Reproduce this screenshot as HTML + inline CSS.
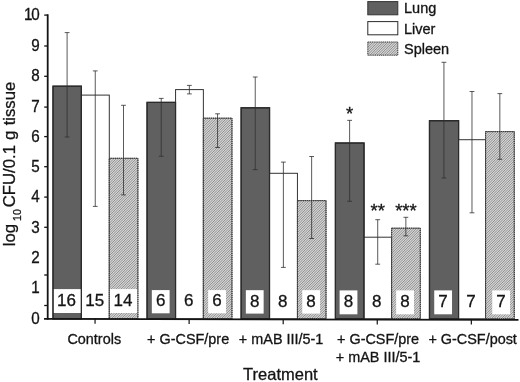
<!DOCTYPE html>
<html><head><meta charset="utf-8"><title>chart</title>
<style>
html,body{margin:0;padding:0;background:#fff;}
body{width:520px;height:382px;overflow:hidden;}
svg{display:block;will-change:transform;}
text{font-family:"Liberation Sans",sans-serif;fill:#141414;stroke:#141414;stroke-width:0.3px;}
</style></head><body>
<svg width="520" height="382" viewBox="0 0 520 382">
<defs>
<pattern id="h" width="5" height="5" patternUnits="userSpaceOnUse">
<rect width="5" height="5" fill="#f4f4f4"/>
<path d="M1.000,-1 L-1,1.000 M2.667,-1 L-1,2.667 M4.333,-1 L-1,4.333 M6.000,-1 L-1,6.000 M7.667,-1 L-1,7.667 M9.333,-1 L-1,9.333 M11.000,-1 L-1,11.000" stroke="#5a5a5a" stroke-width="0.64"/>
</pattern>
</defs>
<rect width="520" height="382" fill="#fff"/>

<rect x="53.00" y="86.20" width="28.40" height="232.60" fill="#606060" stroke="#2b2b2b" stroke-width="1.2"/>
<rect x="81.40" y="95.10" width="27.90" height="223.70" fill="#fff" stroke="#333" stroke-width="1"/>
<rect x="109.30" y="158.30" width="28.60" height="160.50" fill="url(#h)" stroke="#3c3c3c" stroke-width="1" stroke-dasharray="1.3 0.6"/>
<rect x="147.07" y="102.40" width="28.50" height="216.40" fill="#606060" stroke="#2b2b2b" stroke-width="1.2"/>
<rect x="175.57" y="89.60" width="27.80" height="229.20" fill="#fff" stroke="#333" stroke-width="1"/>
<rect x="203.37" y="118.20" width="28.60" height="200.60" fill="url(#h)" stroke="#3c3c3c" stroke-width="1" stroke-dasharray="1.3 0.6"/>
<rect x="241.14" y="107.80" width="28.40" height="211.00" fill="#606060" stroke="#2b2b2b" stroke-width="1.2"/>
<rect x="269.54" y="173.30" width="27.90" height="145.50" fill="#fff" stroke="#333" stroke-width="1"/>
<rect x="297.44" y="200.60" width="28.60" height="118.20" fill="url(#h)" stroke="#3c3c3c" stroke-width="1" stroke-dasharray="1.3 0.6"/>
<rect x="335.41" y="143.00" width="28.60" height="175.80" fill="#606060" stroke="#2b2b2b" stroke-width="1.2"/>
<rect x="364.01" y="237.20" width="27.60" height="81.60" fill="#fff" stroke="#333" stroke-width="1"/>
<rect x="391.61" y="228.20" width="28.70" height="90.60" fill="url(#h)" stroke="#3c3c3c" stroke-width="1" stroke-dasharray="1.3 0.6"/>
<rect x="429.48" y="120.70" width="29.10" height="198.10" fill="#606060" stroke="#2b2b2b" stroke-width="1.2"/>
<rect x="458.58" y="139.70" width="27.00" height="179.10" fill="#fff" stroke="#333" stroke-width="1"/>
<rect x="485.58" y="131.60" width="28.70" height="187.20" fill="url(#h)" stroke="#3c3c3c" stroke-width="1" stroke-dasharray="1.3 0.6"/>
<rect x="53.60" y="289.10" width="27.20" height="23.90" fill="#fff"/>
<text x="66.50" y="306.10" font-size="17" text-anchor="middle">16</text>
<text x="94.65" y="306.10" font-size="17" text-anchor="middle">15</text>
<rect x="109.90" y="289.10" width="27.40" height="23.90" fill="#fff"/>
<text x="122.90" y="306.10" font-size="17" text-anchor="middle">14</text>
<rect x="151.82" y="290.09" width="17.8" height="23.21" fill="#fff"/>
<text x="160.62" y="306.40" font-size="17" text-anchor="middle">6</text>
<text x="188.77" y="306.40" font-size="17" text-anchor="middle">6</text>
<rect x="208.17" y="290.09" width="17.8" height="23.21" fill="#fff"/>
<text x="216.97" y="306.40" font-size="17" text-anchor="middle">6</text>
<rect x="245.84" y="290.18" width="17.8" height="23.42" fill="#fff"/>
<text x="254.64" y="306.70" font-size="17" text-anchor="middle">8</text>
<text x="282.79" y="306.70" font-size="17" text-anchor="middle">8</text>
<rect x="302.24" y="290.18" width="17.8" height="23.42" fill="#fff"/>
<text x="311.04" y="306.70" font-size="17" text-anchor="middle">8</text>
<rect x="339.61" y="290.39" width="17.8" height="23.91" fill="#fff"/>
<text x="348.41" y="307.40" font-size="17" text-anchor="middle">8</text>
<text x="376.71" y="307.40" font-size="17" text-anchor="middle">8</text>
<rect x="396.16" y="290.39" width="17.8" height="23.91" fill="#fff"/>
<text x="404.96" y="307.40" font-size="17" text-anchor="middle">8</text>
<rect x="434.23" y="290.39" width="17.8" height="23.91" fill="#fff"/>
<text x="443.03" y="307.40" font-size="17" text-anchor="middle">7</text>
<text x="471.08" y="307.40" font-size="17" text-anchor="middle">7</text>
<rect x="492.23" y="290.39" width="17.8" height="23.91" fill="#fff"/>
<text x="501.03" y="307.40" font-size="17" text-anchor="middle">7</text>
<rect x="53.00" y="86.20" width="28.40" height="232.60" fill="none" stroke="#2b2b2b" stroke-width="1.2"/>
<rect x="109.30" y="158.30" width="28.60" height="160.50" fill="none" stroke="#3c3c3c" stroke-width="1" stroke-dasharray="1.3 0.6"/>
<rect x="147.07" y="102.40" width="28.50" height="216.40" fill="none" stroke="#2b2b2b" stroke-width="1.2"/>
<rect x="203.37" y="118.20" width="28.60" height="200.60" fill="none" stroke="#3c3c3c" stroke-width="1" stroke-dasharray="1.3 0.6"/>
<rect x="241.14" y="107.80" width="28.40" height="211.00" fill="none" stroke="#2b2b2b" stroke-width="1.2"/>
<rect x="297.44" y="200.60" width="28.60" height="118.20" fill="none" stroke="#3c3c3c" stroke-width="1" stroke-dasharray="1.3 0.6"/>
<rect x="335.41" y="143.00" width="28.60" height="175.80" fill="none" stroke="#2b2b2b" stroke-width="1.2"/>
<rect x="391.61" y="228.20" width="28.70" height="90.60" fill="none" stroke="#3c3c3c" stroke-width="1" stroke-dasharray="1.3 0.6"/>
<rect x="429.48" y="120.70" width="29.10" height="198.10" fill="none" stroke="#2b2b2b" stroke-width="1.2"/>
<rect x="485.58" y="131.60" width="28.70" height="187.20" fill="none" stroke="#3c3c3c" stroke-width="1" stroke-dasharray="1.3 0.6"/>
<path d="M67.10,32.60 V137.00 M64.70,32.60 h4.8 M64.70,137.00 h4.8" stroke="#303030" stroke-width="0.8" fill="none"/>
<path d="M95.25,70.90 V206.40 M92.85,70.90 h4.8 M92.85,206.40 h4.8" stroke="#303030" stroke-width="0.8" fill="none"/>
<path d="M123.50,105.30 V194.90 M121.10,105.30 h4.8 M121.10,194.90 h4.8" stroke="#303030" stroke-width="0.8" fill="none"/>
<path d="M161.22,98.40 V156.30 M158.82,98.40 h4.8 M158.82,156.30 h4.8" stroke="#303030" stroke-width="0.8" fill="none"/>
<path d="M189.37,85.40 V93.90 M186.97,85.40 h4.8 M186.97,93.90 h4.8" stroke="#303030" stroke-width="0.8" fill="none"/>
<path d="M217.57,113.80 V147.50 M215.17,113.80 h4.8 M215.17,147.50 h4.8" stroke="#303030" stroke-width="0.8" fill="none"/>
<path d="M255.24,77.00 V169.60 M252.84,77.00 h4.8 M252.84,169.60 h4.8" stroke="#303030" stroke-width="0.8" fill="none"/>
<path d="M283.39,162.10 V267.40 M280.99,162.10 h4.8 M280.99,267.40 h4.8" stroke="#303030" stroke-width="0.8" fill="none"/>
<path d="M311.64,156.50 V238.50 M309.24,156.50 h4.8 M309.24,238.50 h4.8" stroke="#303030" stroke-width="0.8" fill="none"/>
<path d="M349.61,120.35 V201.30 M347.21,120.35 h4.8 M347.21,201.30 h4.8" stroke="#303030" stroke-width="0.8" fill="none"/>
<path d="M377.71,219.70 V264.20 M375.31,219.70 h4.8 M375.31,264.20 h4.8" stroke="#303030" stroke-width="0.8" fill="none"/>
<path d="M405.86,217.30 V235.80 M403.46,217.30 h4.8 M403.46,235.80 h4.8" stroke="#303030" stroke-width="0.8" fill="none"/>
<path d="M443.93,62.30 V178.00 M441.53,62.30 h4.8 M441.53,178.00 h4.8" stroke="#303030" stroke-width="0.8" fill="none"/>
<path d="M471.98,91.50 V212.80 M469.58,91.50 h4.8 M469.58,212.80 h4.8" stroke="#303030" stroke-width="0.8" fill="none"/>
<path d="M499.83,93.60 V159.30 M497.43,93.60 h4.8 M497.43,159.30 h4.8" stroke="#303030" stroke-width="0.8" fill="none"/>
<text x="349.71" y="120.3" font-size="18.5" text-anchor="middle">*</text>
<text x="377.81" y="217.2" font-size="18.5" text-anchor="middle">**</text>
<text x="405.96" y="217.2" font-size="18.5" text-anchor="middle">***</text>
<path d="M47.7,14.3 V319.7" stroke="#141414" stroke-width="1.8" fill="none"/>
<path d="M44,318.95 L518.5,319.90000000000003" stroke="#141414" stroke-width="1.8" fill="none"/>
<path d="M44.2,15.1 H47.7" stroke="#141414" stroke-width="1.3"/>
<path d="M44.2,46.0 H47.7" stroke="#141414" stroke-width="1.3"/>
<path d="M44.2,76.3 H47.7" stroke="#141414" stroke-width="1.3"/>
<path d="M44.2,107.1 H47.7" stroke="#141414" stroke-width="1.3"/>
<path d="M44.2,136.6 H47.7" stroke="#141414" stroke-width="1.3"/>
<path d="M44.2,166.7 H47.7" stroke="#141414" stroke-width="1.3"/>
<path d="M44.2,197.1 H47.7" stroke="#141414" stroke-width="1.3"/>
<path d="M44.2,227.3 H47.7" stroke="#141414" stroke-width="1.3"/>
<path d="M44.2,275.0 H47.7" stroke="#141414" stroke-width="1.3"/>
<path d="M44.2,305.5 H47.7" stroke="#141414" stroke-width="1.3"/>
<text transform="translate(39.8,20.20) scale(0.97,1)" stroke-width="0.12" font-size="15.7" text-anchor="end" textLength="16.2" lengthAdjust="spacing">10</text>
<text transform="translate(39.8,51.10) scale(0.97,1)" stroke-width="0.12" font-size="15.7" text-anchor="end">9</text>
<text transform="translate(39.8,81.40) scale(0.97,1)" stroke-width="0.12" font-size="15.7" text-anchor="end">8</text>
<text transform="translate(39.8,111.70) scale(0.97,1)" stroke-width="0.12" font-size="15.7" text-anchor="end">7</text>
<text transform="translate(39.8,142.10) scale(0.97,1)" stroke-width="0.12" font-size="15.7" text-anchor="end">6</text>
<text transform="translate(39.8,172.10) scale(0.97,1)" stroke-width="0.12" font-size="15.7" text-anchor="end">5</text>
<text transform="translate(39.8,202.40) scale(0.97,1)" stroke-width="0.12" font-size="15.7" text-anchor="end">4</text>
<text transform="translate(39.8,232.70) scale(0.97,1)" stroke-width="0.12" font-size="15.7" text-anchor="end">3</text>
<text transform="translate(39.8,262.90) scale(0.97,1)" stroke-width="0.12" font-size="15.7" text-anchor="end">2</text>
<text transform="translate(39.8,293.30) scale(0.97,1)" stroke-width="0.12" font-size="15.7" text-anchor="end">1</text>
<text transform="translate(39.8,323.50) scale(0.97,1)" stroke-width="0.12" font-size="15.7" text-anchor="end">0</text>
<path d="M95.05,318.80 V323.80" stroke="#141414" stroke-width="1.2"/>
<text id="xl0_0" transform="translate(94.25,344.40) scale(1.03,1)" font-size="14" text-anchor="middle">Controls</text>
<path d="M189.12,319.00 V324.00" stroke="#141414" stroke-width="1.2"/>
<text id="xl1_0" transform="translate(188.12,344.40) scale(1.03,1)" font-size="14" text-anchor="middle">+ G-CSF/pre</text>
<path d="M283.19,319.20 V324.20" stroke="#141414" stroke-width="1.2"/>
<text id="xl2_0" transform="translate(281.09,344.40) scale(1.03,1)" font-size="14" text-anchor="middle">+ mAB III/5-1</text>
<path d="M377.26,319.40 V324.40" stroke="#141414" stroke-width="1.2"/>
<text id="xl3_0" transform="translate(378.06,344.40) scale(1.03,1)" font-size="14" text-anchor="middle">+ G-CSF/pre</text>
<text id="xl3_1" transform="translate(378.06,361.60) scale(1.03,1)" font-size="14" text-anchor="middle">+ mAB III/5-1</text>
<path d="M471.33,319.60 V324.60" stroke="#141414" stroke-width="1.2"/>
<text id="xl4_0" transform="translate(472.63,344.40) scale(1.03,1)" font-size="14" text-anchor="middle">+ G-CSF/post</text>
<text id="xt" x="280.4" y="380" font-size="16.5" text-anchor="middle">Treatment</text>
<g transform="translate(14.5,0) rotate(-90) scale(1,0.95)" stroke="#141414" stroke-width="0.35">
<text id="yl1" x="-246.3" y="0" font-size="16.7">log</text>
<text id="yl2" x="-221.0" y="6.9" font-size="10.6">10</text>
<text id="yl3" x="-207.2" y="0" font-size="16.7">CFU/0.1</text>
<text id="yl4" x="-140.1" y="0" font-size="16.7">g</text>
<text id="yl5" x="-81.8" y="0" font-size="16.7" text-anchor="end">tissue</text>
</g>
<rect x="367.8" y="1.6" width="30" height="13.2" fill="#606060" stroke="#333" stroke-width="1"/>
<text transform="translate(404,13.3) scale(1.03,1)" font-size="14.1">Lung</text>
<rect x="367.8" y="21.6" width="30" height="13.2" fill="#fff" stroke="#2b2b2b" stroke-width="1"/>
<text transform="translate(404,33.7) scale(1.03,1)" font-size="14.1">Liver</text>
<rect x="367.8" y="42" width="30" height="13.2" fill="url(#h)" stroke="#3c3c3c" stroke-width="1" stroke-dasharray="1.3 0.6"/>
<text transform="translate(404,53.7) scale(1.03,1)" font-size="14.1">Spleen</text>
</svg></body></html>
